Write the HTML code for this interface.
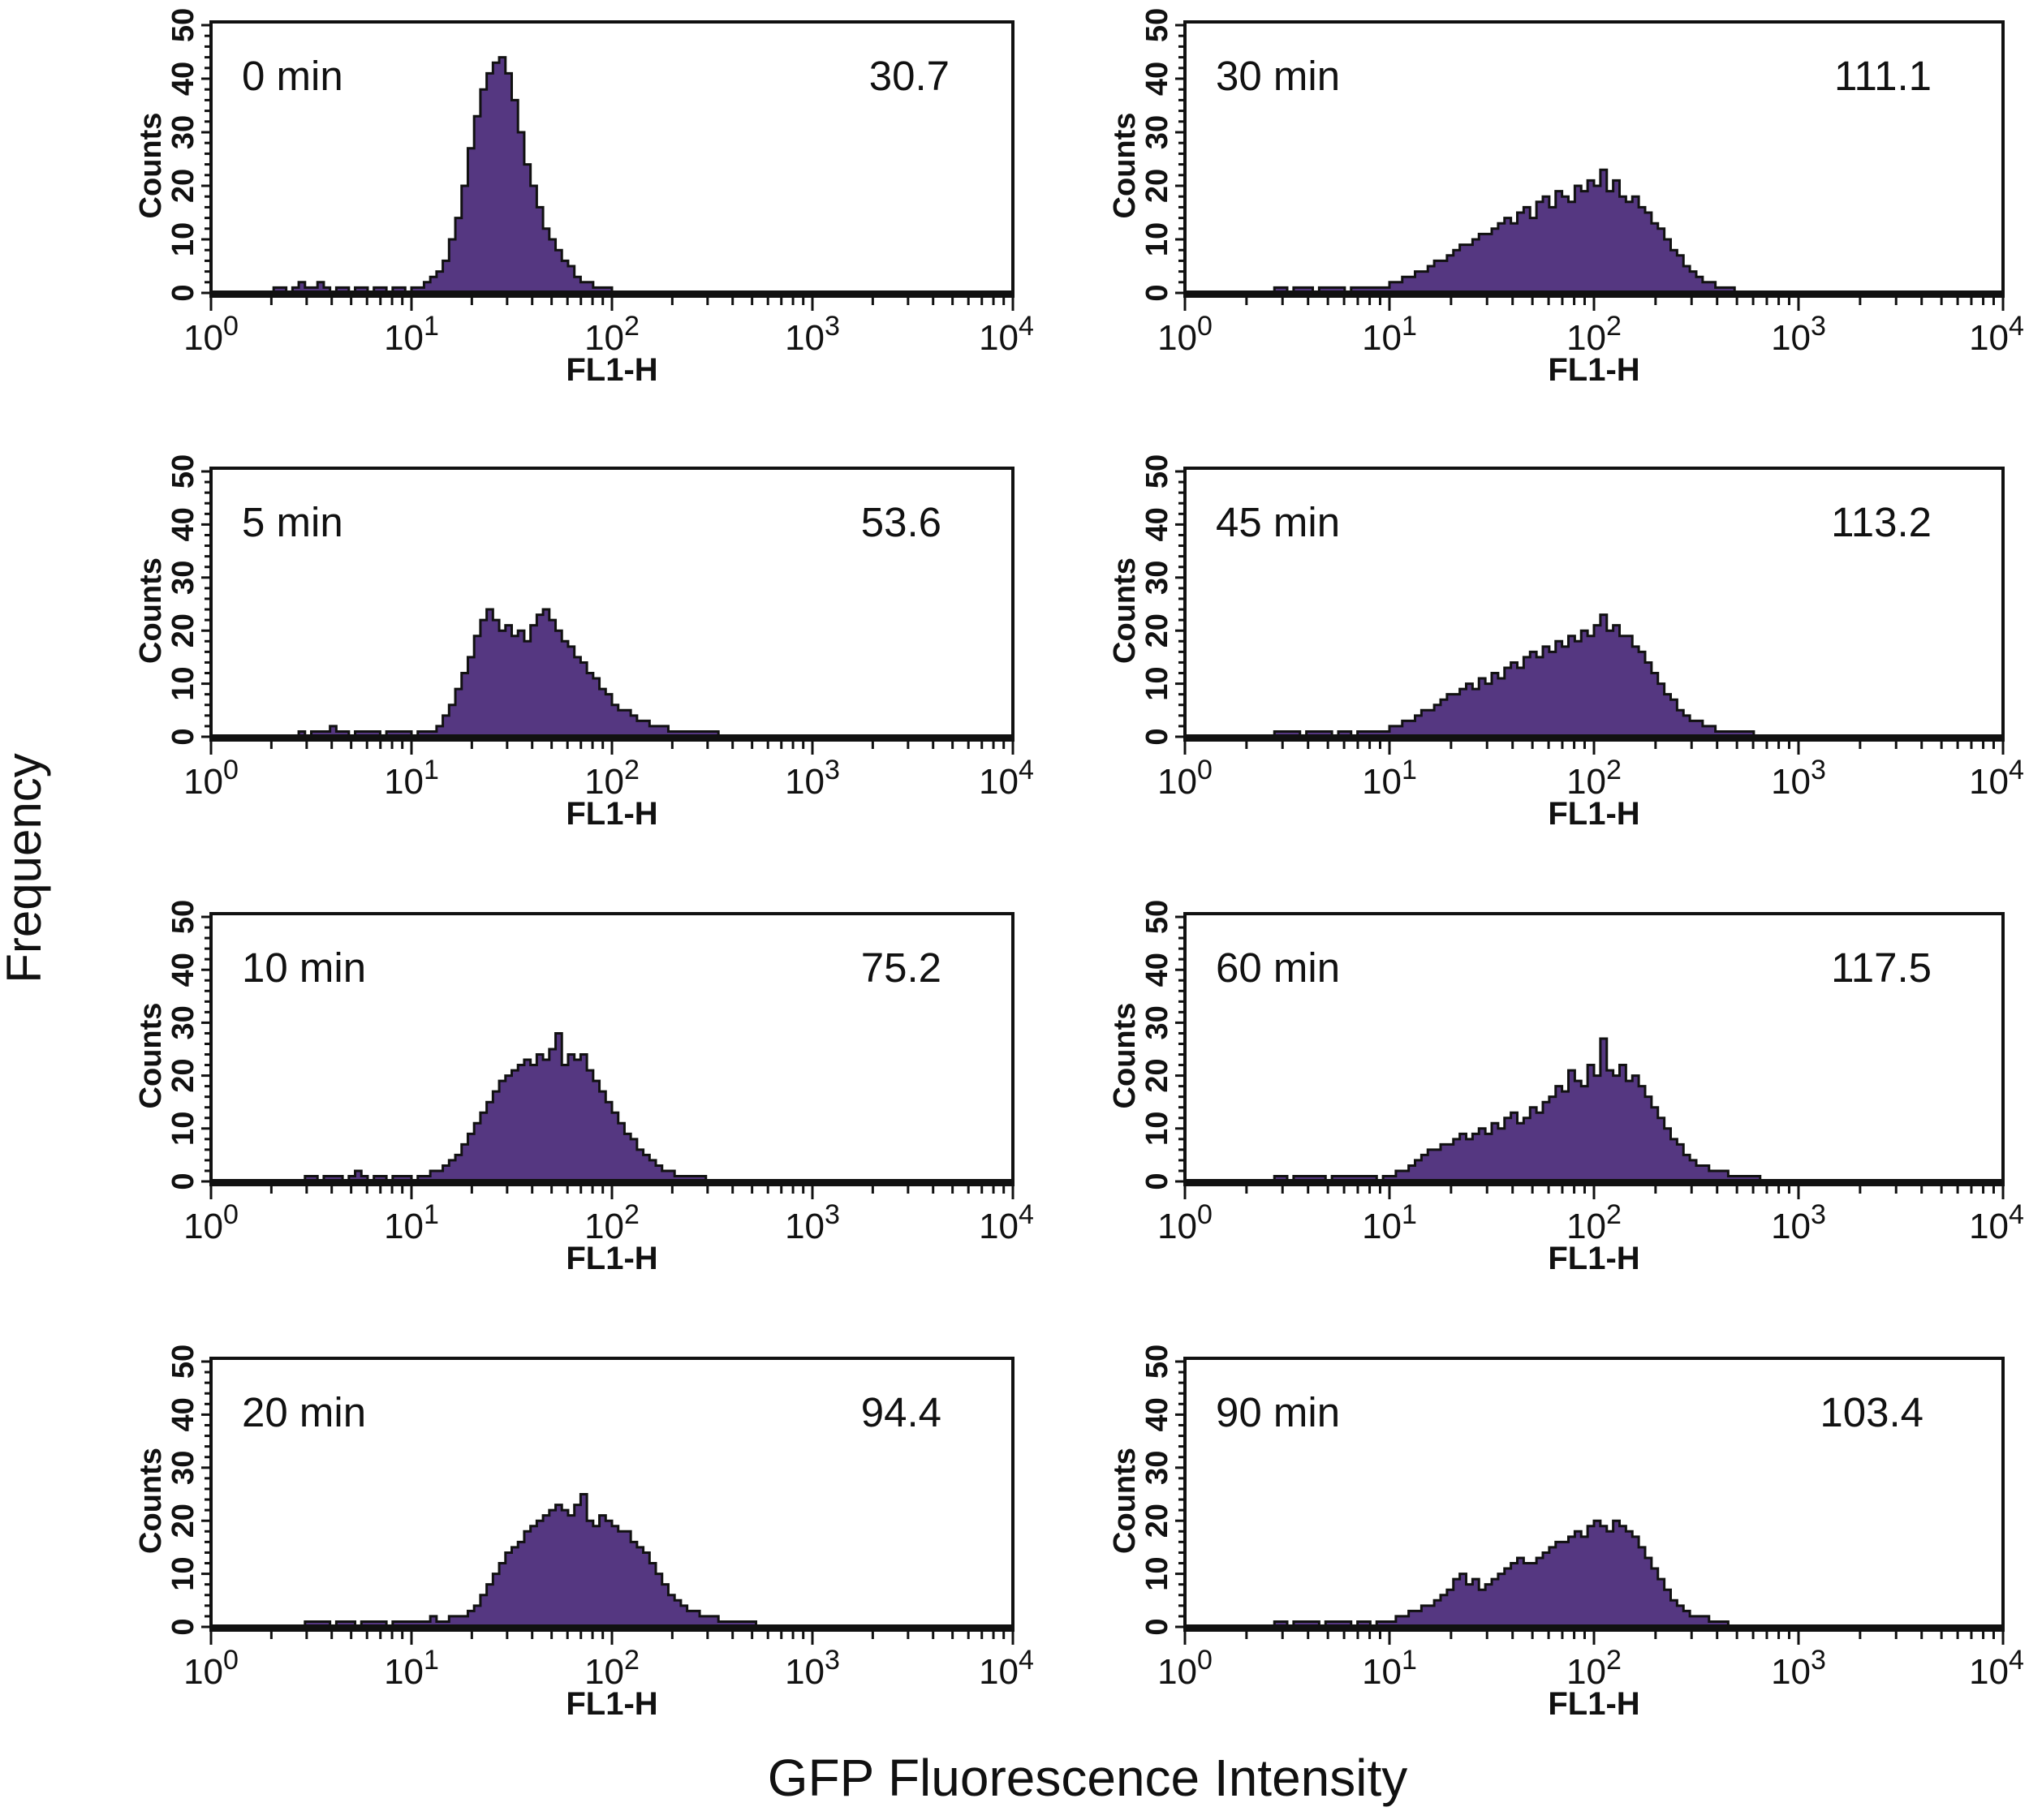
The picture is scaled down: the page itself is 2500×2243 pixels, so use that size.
<!DOCTYPE html>
<html><head><meta charset="utf-8"><style>
html,body{margin:0;padding:0;background:#fff}
svg text{font-family:"Liberation Sans Narrow","Liberation Sans",sans-serif;fill:#111}
</style></head><body>
<svg id="fig" width="2500" height="2238" viewBox="0 0 2500 2238" xmlns="http://www.w3.org/2000/svg">
<text x="0" y="0" transform="translate(50,1070) rotate(-90)" text-anchor="middle" font-size="60" style="font-family:'Liberation Sans',sans-serif">Frequency</text>
<text x="1340" y="2213" text-anchor="middle" font-size="64" style="font-family:'Liberation Sans',sans-serif">GFP Fluorescence Intensity</text>
</svg>
<script>
// Data: histogram counts, 32 bins per decade, start = first bin index
const panelLabels = ["0 min","5 min","10 min","20 min","30 min","45 min","60 min","90 min"];
const meanValues = ["30.7","53.6","75.2","94.4","111.1","113.2","117.5","103.4"];
const binStarts = [10,14,15,15,14,14,14,14];
const counts0 = [1,1,0,1,2,1,1,2,1,0,1,1,0,1,1,0,1,1,0,1,1,0,1,1,2,3,4,6,10,14,20,27,33,38,41,43,44,41,36,30,24,20,16,12,10,8,6,5,3,2,2,1,1,1,0];
const counts5 = [1,0,1,1,1,2,1,1,0,1,1,1,1,0,1,1,1,1,0,1,1,1,2,4,6,9,12,15,19,22,24,22,20,21,19,20,18,21,23,24,22,20,18,17,15,14,12,11,9,8,6,5,5,4,3,3,2,2,2,1,1,1,1,1,1,1,1,0];
const counts10 = [1,1,0,1,1,1,0,1,2,1,0,1,1,0,1,1,1,0,1,1,2,2,3,4,5,7,9,11,13,15,17,19,20,21,22,23,22,24,23,25,28,22,24,23,24,21,19,17,15,13,11,9,8,6,5,4,3,2,2,1,1,1,1,1,0];
const counts20 = [1,1,1,1,0,1,1,1,0,1,1,1,1,0,1,1,1,1,1,1,2,1,1,2,2,2,3,4,6,8,10,12,14,15,16,18,19,20,21,22,23,22,21,23,25,20,19,21,20,19,18,18,16,15,14,12,10,8,6,5,4,3,3,2,2,2,1,1,1,1,1,1,0];
const counts30 = [1,1,0,1,1,1,0,1,1,1,1,0,1,1,1,1,1,1,2,2,3,3,4,4,5,6,6,7,8,9,9,10,11,11,12,13,14,13,15,16,14,17,18,16,19,18,17,20,19,21,20,23,19,21,18,17,18,16,15,13,12,10,8,7,5,4,3,2,2,1,1,1,0];
const counts45 = [1,1,1,1,0,1,1,1,1,0,1,1,0,1,1,1,1,1,2,2,3,3,4,5,5,6,7,8,8,9,10,9,11,10,12,11,13,14,13,15,16,15,17,16,18,17,19,18,20,19,21,23,20,21,19,19,17,16,14,12,10,8,7,5,4,3,3,2,2,1,1,1,1,1,1,0];
const counts60 = [1,1,0,1,1,1,1,1,0,1,1,1,1,1,1,1,0,1,1,2,2,3,4,5,6,6,7,7,8,9,8,9,10,9,11,10,12,13,11,12,14,13,15,16,18,17,21,19,18,22,20,27,21,20,22,19,20,18,16,14,12,10,8,7,5,4,3,3,2,2,2,1,1,1,1,1,0];
const counts90 = [1,1,0,1,1,1,1,0,1,1,1,1,0,1,1,0,1,1,1,2,2,3,3,4,4,5,6,7,9,10,8,9,7,8,9,10,11,12,13,12,12,13,14,15,16,16,17,18,17,19,20,19,18,20,19,18,17,15,13,11,9,7,5,4,3,2,2,2,1,1,1,0];
const allCounts = [counts0,counts5,counts10,counts20,counts30,counts45,counts60,counts90];
const yTicks = [0,10,20,30,40,50];
const xDecades = [0,1,2,3,4];

const svg = document.getElementById('fig');
const NS = "http://www.w3.org/2000/svg";
const colX = [[260,1248],[1460,2468]];
const rowY = [[27,365],[577,912],[1126,1460],[1674,2009]];
const valueRight = [1170,1160,1160,1160,2380,2380,2380,2370];
function mk(tag, attrs, parent){const e=document.createElementNS(NS,tag);for(const k in attrs)e.setAttribute(k,attrs[k]);(parent||svg).appendChild(e);return e;}

for (let p=0;p<8;p++){
  const col = p<4?0:1, row = p%4;
  const [x0,x1]=colX[col], [yt,yb]=rowY[row];
  const base = yb-4, top = yt+4;
  const xs = v => x0 + (v/4)*(x1-x0);
  const ys = c => base - (c/50)*(base-top);
  const g = mk('g',{});
  
  
  const arr = allCounts[p], st = binStarts[p];
  let d = `M${xs(st/32)},${base}`;
  for (let i=0;i<arr.length;i++){
    const a=xs((st+i)/32), b=xs((st+i+1)/32), y=ys(arr[i]);
    d += ` L${a},${y} L${b},${y}`;
  }
  d += ` L${xs((st+arr.length)/32)},${base} Z`;
  const h = mk('path',{d:d,fill:'#553781',stroke:'#111','stroke-width':3,'stroke-linejoin':'miter'},g);
  
  
  mk('line',{x1:x0,y1:base,x2:x1,y2:base,stroke:'#111','stroke-width':6},g);
  const box = mk('rect',{x:x0,y:yt,width:x1-x0,height:yb-yt,fill:'none',stroke:'#111','stroke-width':4},g);
  
  
  for (let c=0;c<=50;c+=2){
    const y=ys(c), major=c%10===0;
    mk('line',{x1:x0-(major?12:8),y1:y,x2:x0,y2:y,stroke:'#111','stroke-width':3},g);
  }
  yTicks.forEach(t=>{
    const tx = mk('text',{transform:`translate(${x0-22},${ys(t)}) rotate(-90)`,'text-anchor':'middle','font-size':38,'font-weight':'bold'},g);
    tx.textContent=t;
    
    
  });
  const cl = mk('text',{transform:`translate(${x0-62},${(yt+yb)/2+8}) rotate(-90)`,'text-anchor':'middle','font-size':38,'font-weight':'bold'},g);
  cl.textContent='Counts';
  
  
  for (let dcd=0; dcd<4; dcd++){
    for (let m=1;m<=9;m++){
      const x=xs(dcd+Math.log10(m));
      mk('line',{x1:x,y1:yb,x2:x,y2:yb+(m===1?18:11),stroke:'#111','stroke-width':3},g);
    }
  }
  mk('line',{x1:x1,y1:yb,x2:x1,y2:yb+18,stroke:'#111','stroke-width':3},g);
  xDecades.forEach(dc=>{
    const t = mk('text',{x:xs(dc)+(dc===4?-8:0),y:yb+66,'text-anchor':'middle','font-size':44},g);
    
    
    t.textContent='10';
    const s = mk('tspan',{dy:-18,'font-size':34},t);
    s.textContent=String(dc);
  });
  const fl = mk('text',{x:xs(2),y:yb+104,'text-anchor':'middle','font-size':40,'font-weight':'bold'},g);
  fl.textContent='FL1-H';
  
  
  const lb = mk('text',{x:x0+38,y:yt+84,'font-size':51,style:"font-family:'Liberation Sans',sans-serif"},g);
  lb.textContent=panelLabels[p];
  
  
  const mv = mk('text',{x:valueRight[p],y:yt+84,'text-anchor':'end','font-size':51,style:"font-family:'Liberation Sans',sans-serif"},g);
  mv.textContent=meanValues[p];
  
  
}
</script>
</body></html>
